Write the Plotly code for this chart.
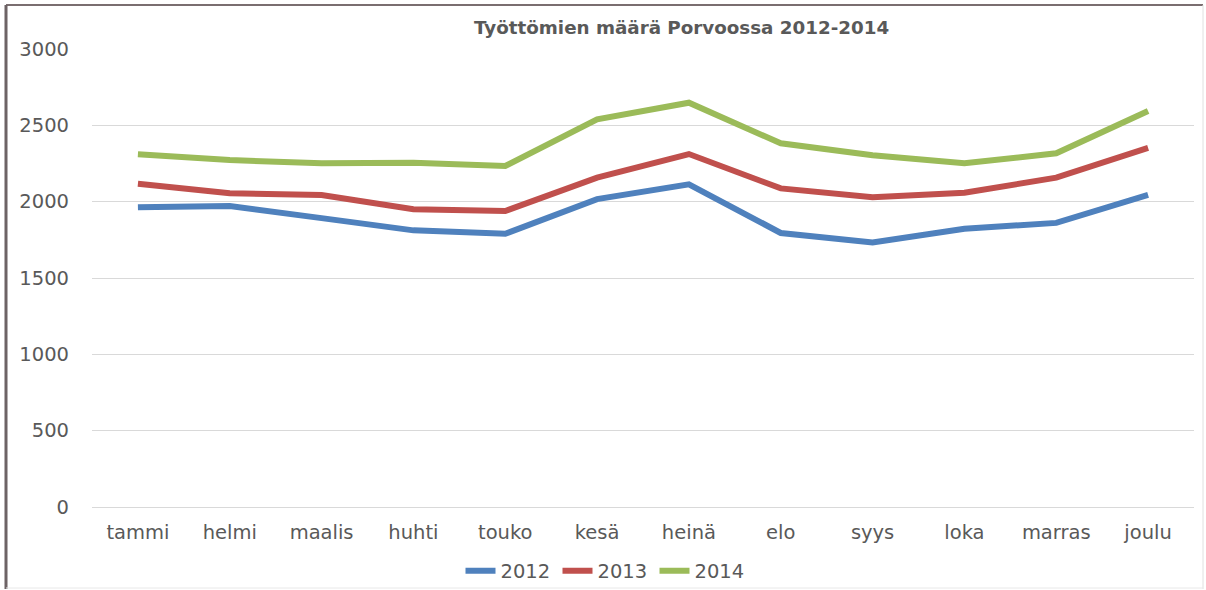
import plotly.graph_objects as go

months = ["tammi", "helmi", "maalis", "huhti", "touko", "kesä", "heinä", "elo", "syys", "loka", "marras", "joulu"]
v2012 = [1963, 1972, 1892, 1812, 1790, 2017, 2114, 1795, 1732, 1823, 1861, 2044]
v2013 = [2118, 2055, 2044, 1950, 1939, 2157, 2312, 2087, 2029, 2059, 2157, 2352]
v2014 = [2310, 2273, 2251, 2255, 2234, 2539, 2648, 2382, 2304, 2251, 2317, 2594]
series = [("2012", v2012, "#4F81BD"), ("2013", v2013, "#C0504D"), ("2014", v2014, "#9BBB59")]
yticks = [0, 500, 1000, 1500, 2000, 2500, 3000]
title = "Työttömien määrä Porvoossa 2012-2014"

W, H = 1206, 590
L, R, T, B = 92, 12, 49, 83

fig = go.Figure()
for name, vals, col in series:
    fig.add_trace(go.Scatter(x=months, y=vals, name=name, mode="lines",
                             line=dict(color=col, width=6)))

pw = W - L - R
ph = H - T - B
def px(x):
    return (x - L) / pw
def py(y):
    return (H - B - y) / ph

font = "DejaVu Sans, Verdana, sans-serif"
fig.update_layout(
    width=W, height=H,
    margin=dict(l=L, r=R, t=T, b=B, autoexpand=False),
    paper_bgcolor="white", plot_bgcolor="white",
    font=dict(family=font, color="#595959", size=19.5),
    showlegend=True,
    legend=dict(orientation="h", x=px(606), xanchor="center", y=py(571), yanchor="middle",
                font=dict(size=19.5, color="#595959"), entrywidth=52, entrywidthmode="pixels",
                tracegroupgap=0, bgcolor="rgba(0,0,0,0)"),
    xaxis=dict(showgrid=False, showline=False, ticks="", ticklabelstandoff=11,
               range=[-0.5, 11.5],
               tickfont=dict(size=19.5, color="#595959")),
    yaxis=dict(range=[0, 3000], tickvals=yticks, showgrid=True, gridcolor="#d9d9d9", gridwidth=1,
               zeroline=True, zerolinecolor="#d9d9d9", zerolinewidth=1,
               showline=False, ticks="", ticklabelstandoff=22,
               tickfont=dict(size=19.5, color="#595959")),
    annotations=[dict(text="<b>" + title + "</b>", x=px(681), y=py(27), xref="paper", yref="paper",
                      xanchor="center", yanchor="middle", showarrow=False,
                      font=dict(size=18.3, color="#595959", family=font))],
    shapes=[
        dict(type="line", xref="paper", yref="paper", x0=px(6), x1=px(1203), y0=py(5), y1=py(5),
             line=dict(color="#7a6e70", width=2)),
        dict(type="line", xref="paper", yref="paper", x0=px(6), x1=px(6), y0=py(5), y1=py(589),
             line=dict(color="#6d6365", width=3)),
        dict(type="line", xref="paper", yref="paper", x0=px(1203), x1=px(1203), y0=py(5), y1=py(589),
             line=dict(color="#e0e0e0", width=1)),
        dict(type="line", xref="paper", yref="paper", x0=px(6), x1=px(1203), y0=py(588), y1=py(588),
             line=dict(color="#e8e8e8", width=1)),
    ],
)
fig.write_html("out.html", config={"displayModeBar": False},
               post_script="document.body.style.margin='0px';document.body.style.overflow='hidden';")
